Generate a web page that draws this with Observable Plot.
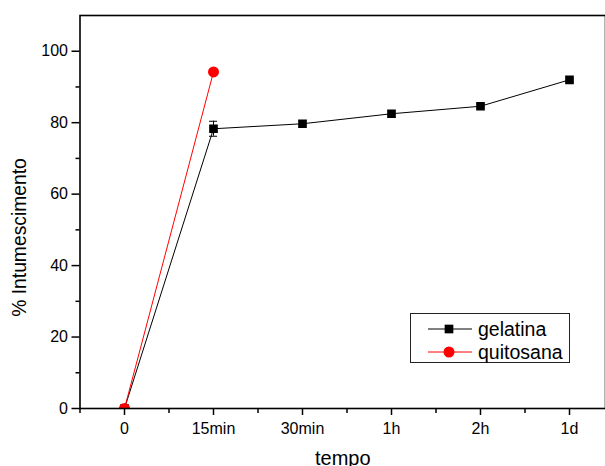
<!DOCTYPE html>
<html>
<head>
<meta charset="utf-8">
<script src="https://cdn.jsdelivr.net/npm/d3@7"></script>
<script src="https://cdn.jsdelivr.net/npm/@observablehq/plot@0.6"></script>
<style>
  html, body { margin: 0; padding: 0; background: white; overflow: hidden; }
  #chart { position: relative; width: 605px; height: 466px; font-family: "Liberation Sans", Arial, sans-serif; }
  #legend { position: absolute; left: 410px; top: 313px; }
</style>
</head>
<body>
<div id="chart"></div>
<script>
// Swelling over time
const categories = ["0", "15min", "30min", "1h", "2h", "1d"];
const gelatina = [0, 78.3, 79.7, 82.5, 84.6, 92.0];
const gelatinaErr = [0, 2.1, 0, 0, 0, 0];
const quitosana = [0, 94.2];
const seriesNames = ["gelatina", "quitosana"];
const seriesColors = ["black", "red"];
const seriesSymbols = ["square", "circle"];

const gel = gelatina.map((v, i) => ({i, v, e: gelatinaErr[i]}));
const quit = quitosana.map((v, i) => ({i, v}));
const errs = gel.filter(d => d.e > 0);

const font = "'Liberation Sans', Arial, sans-serif";

const plot = Plot.plot({
  width: 605,
  height: 466,
  marginTop: 15,
  marginBottom: 58,
  marginLeft: 79.5,
  marginRight: 0,
  x: {domain: [-0.5, 5.5], range: [79.5, 613.5]},
  y: {domain: [0, 110]},
  style: {fontFamily: font, fontSize: "16px", color: "black", background: "white", overflow: "hidden"},
  marks: [
    Plot.axisY({ticks: [0, 20, 40, 60, 80, 100], tickSize: 8, tickPadding: 4, strokeWidth: 1.5, label: null}),
    Plot.axisY({ticks: [10, 30, 50, 70, 90], tickSize: 4, strokeWidth: 1.5, tickFormat: () => "", label: null}),
    Plot.axisX({ticks: d3.range(categories.length), tickFormat: i => categories[i], tickSize: 7, tickPadding: 7, strokeWidth: 1.5, label: null}),
    Plot.axisX({ticks: d3.range(categories.length).map(i => i - 0.5), tickSize: 5, strokeWidth: 1.5, tickFormat: () => "", label: null}),
    Plot.line(gel, {x: "i", y: "v", stroke: seriesColors[0], strokeWidth: 1}),
    Plot.ruleX(errs, {x: "i", y1: d => d.v - d.e, y2: d => d.v + d.e, stroke: "black", strokeWidth: 1}),
    Plot.ruleY(errs, {y: d => d.v - d.e, x1: d => d.i - 0.045, x2: d => d.i + 0.045, stroke: "black", strokeWidth: 1}),
    Plot.ruleY(errs, {y: d => d.v + d.e, x1: d => d.i - 0.045, x2: d => d.i + 0.045, stroke: "black", strokeWidth: 1}),
    Plot.dot(gel, {x: "i", y: "v", symbol: seriesSymbols[0], r: 4.9, fill: seriesColors[0], stroke: "none", clip: "frame"}),
    Plot.line(quit, {x: "i", y: "v", stroke: seriesColors[1], strokeWidth: 1}),
    Plot.dot(quit, {x: "i", y: "v", symbol: seriesSymbols[1], r: 5.5, fill: seriesColors[1], stroke: "none", clip: "frame"}),
    Plot.frame({stroke: "black", strokeWidth: 1.6}),
    Plot.text(["tempo"], {frameAnchor: "bottom", textAnchor: "middle", lineAnchor: "top", dy: 42.5, fontSize: 20, fill: "black"}),
    Plot.text(["% Intumescimento"], {frameAnchor: "left", textAnchor: "middle", lineAnchor: "middle", rotate: -90, dx: -60, dy: 25.5, fontSize: 19.3, fill: "black"})
  ]
});

const chart = document.getElementById("chart");
chart.appendChild(plot);

// Legend box
const lw = 160, lh = 50;
const legend = d3.create("svg")
  .attr("id", "legend")
  .attr("width", lw)
  .attr("height", lh)
  .style("font-family", font);
legend.append("rect")
  .attr("x", 0.5).attr("y", 0.5)
  .attr("width", lw - 1).attr("height", lh - 1)
  .attr("fill", "white").attr("stroke", "#222").attr("stroke-width", 1);
seriesNames.forEach((name, k) => {
  const cy = 16 + k * 23;
  const g = legend.append("g").attr("transform", `translate(0,${cy})`);
  g.append("line").attr("x1", 18).attr("x2", 62).attr("y1", 0).attr("y2", 0)
    .attr("stroke", seriesColors[k]).attr("stroke-width", 1);
  const sym = seriesSymbols[k] === "square" ? d3.symbolSquare : d3.symbolCircle;
  const size = seriesSymbols[k] === "square" ? 4.9 * 4.9 * Math.PI : 5.5 * 5.5 * Math.PI;
  g.append("path").attr("transform", "translate(39,0)")
    .attr("d", d3.symbol(sym, size)()).attr("fill", seriesColors[k]);
  g.append("text").attr("x", 68).attr("y", 0).attr("dy", "0.35em")
    .attr("font-size", 19.5).attr("fill", "black").text(name);
});
chart.appendChild(legend.node());
</script>
</body>
</html>
